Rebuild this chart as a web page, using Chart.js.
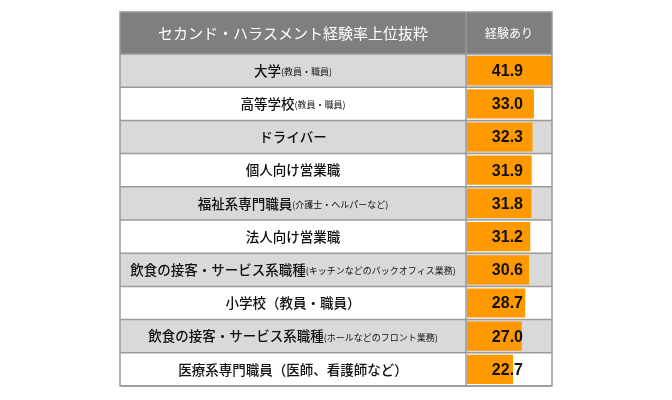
<!DOCTYPE html>
<html><head><meta charset="utf-8">
<script src="https://cdn.jsdelivr.net/npm/chart.js@4"></script>
<style>html,body{margin:0;padding:0;background:#fff}</style>
</head><body><canvas id="c" width="672" height="400"></canvas>
<script>
const headerTitle = "セカンド・ハラスメント経験率上位抜粋";
const headerValue = "経験あり";
const mainLabels = ["大学","高等学校","ドライバー","個人向け営業職","福祉系専門職員","法人向け営業職","飲食の接客・サービス系職種","小学校（教員・職員）","飲食の接客・サービス系職種","医療系専門職員（医師、看護師など）"];
const subLabels = ["(教員・職員)","(教員・職員)","","","(介護士・ヘルパーなど)","","(キッチンなどのバックオフィス業務)","","(ホールなどのフロント業務)",""];
const values = [41.9,33.0,32.3,31.9,31.8,31.2,30.6,28.7,27.0,22.7];

const L = 120, M = 466, R = 552, T = 12, HB = 54, B = 386;
const FONT = '"Noto Sans CJK JP", sans-serif';
const tablePlugin = {
  id: 'table',
  beforeDatasetsDraw(chart) {
    const ctx = chart.ctx, y = chart.scales.y;
    const rh = (B - HB) / values.length;
    ctx.save();
    ctx.fillStyle = '#7f7f7f';
    ctx.fillRect(L, T, R - L, HB - T);
    for (let i = 0; i < values.length; i++) {
      const c = y.getPixelForValue(i);
      ctx.fillStyle = i % 2 === 0 ? '#d9d9d9' : '#ffffff';
      ctx.fillRect(L, c - rh / 2, R - L, rh);
    }
    ctx.restore();
  },
  afterDatasetsDraw(chart) {
    const ctx = chart.ctx, y = chart.scales.y;
    const rh = (B - HB) / values.length;
    ctx.save();
    ctx.strokeStyle = '#9a9a9a'; ctx.lineWidth = 1.5;
    ctx.strokeRect(L, T, R - L, B - T);
    ctx.beginPath();
    ctx.moveTo(M, T); ctx.lineTo(M, B);
    for (let i = 0; i <= values.length; i++) {
      const yy = HB + i * rh;
      ctx.moveTo(L, yy); ctx.lineTo(R, yy);
    }
    ctx.stroke();
    ctx.textBaseline = 'middle';
    ctx.fillStyle = '#fff';
    ctx.textAlign = 'center';
    ctx.font = '15px ' + FONT;
    ctx.fillText(headerTitle, (L + M) / 2, (T + HB) / 2);
    ctx.font = '12px ' + FONT;
    ctx.fillText(headerValue, (M + R) / 2, (T + HB) / 2);
    for (let i = 0; i < values.length; i++) {
      const c = y.getPixelForValue(i);
      ctx.font = '500 13.5px ' + FONT;
      const w1 = ctx.measureText(mainLabels[i]).width;
      ctx.font = '9px ' + FONT;
      const w2 = subLabels[i] ? ctx.measureText(subLabels[i]).width : 0;
      let x = (L + M) / 2 - (w1 + w2) / 2;
      ctx.textAlign = 'left';
      ctx.fillStyle = '#111';
      ctx.font = '500 13.5px ' + FONT;
      ctx.fillText(mainLabels[i], x, c);
      if (subLabels[i]) {
        ctx.font = '9px ' + FONT;
        ctx.fillText(subLabels[i], x + w1, c + 1);
      }
      ctx.textAlign = 'right';
      ctx.font = 'bold 16px "Liberation Sans", Arial, sans-serif';
      ctx.fillText(values[i].toFixed(1), 523, c + 1);
    }
    ctx.restore();
  }
};
new Chart(document.getElementById('c'), {
  type: 'bar',
  data: { labels: mainLabels, datasets: [{ data: values, backgroundColor: '#ff9900', borderWidth: 0, barPercentage: 0.88, categoryPercentage: 1 }] },
  options: {
    indexAxis: 'y', responsive: false, animation: false,
    layout: { padding: { left: M + 1, right: 672 - R, top: HB, bottom: 400 - B } },
    scales: { x: { display: false, min: 0, max: 41.9 }, y: { display: false } },
    plugins: { legend: { display: false }, tooltip: { enabled: false } }
  },
  plugins: [tablePlugin]
});
</script></body></html>
